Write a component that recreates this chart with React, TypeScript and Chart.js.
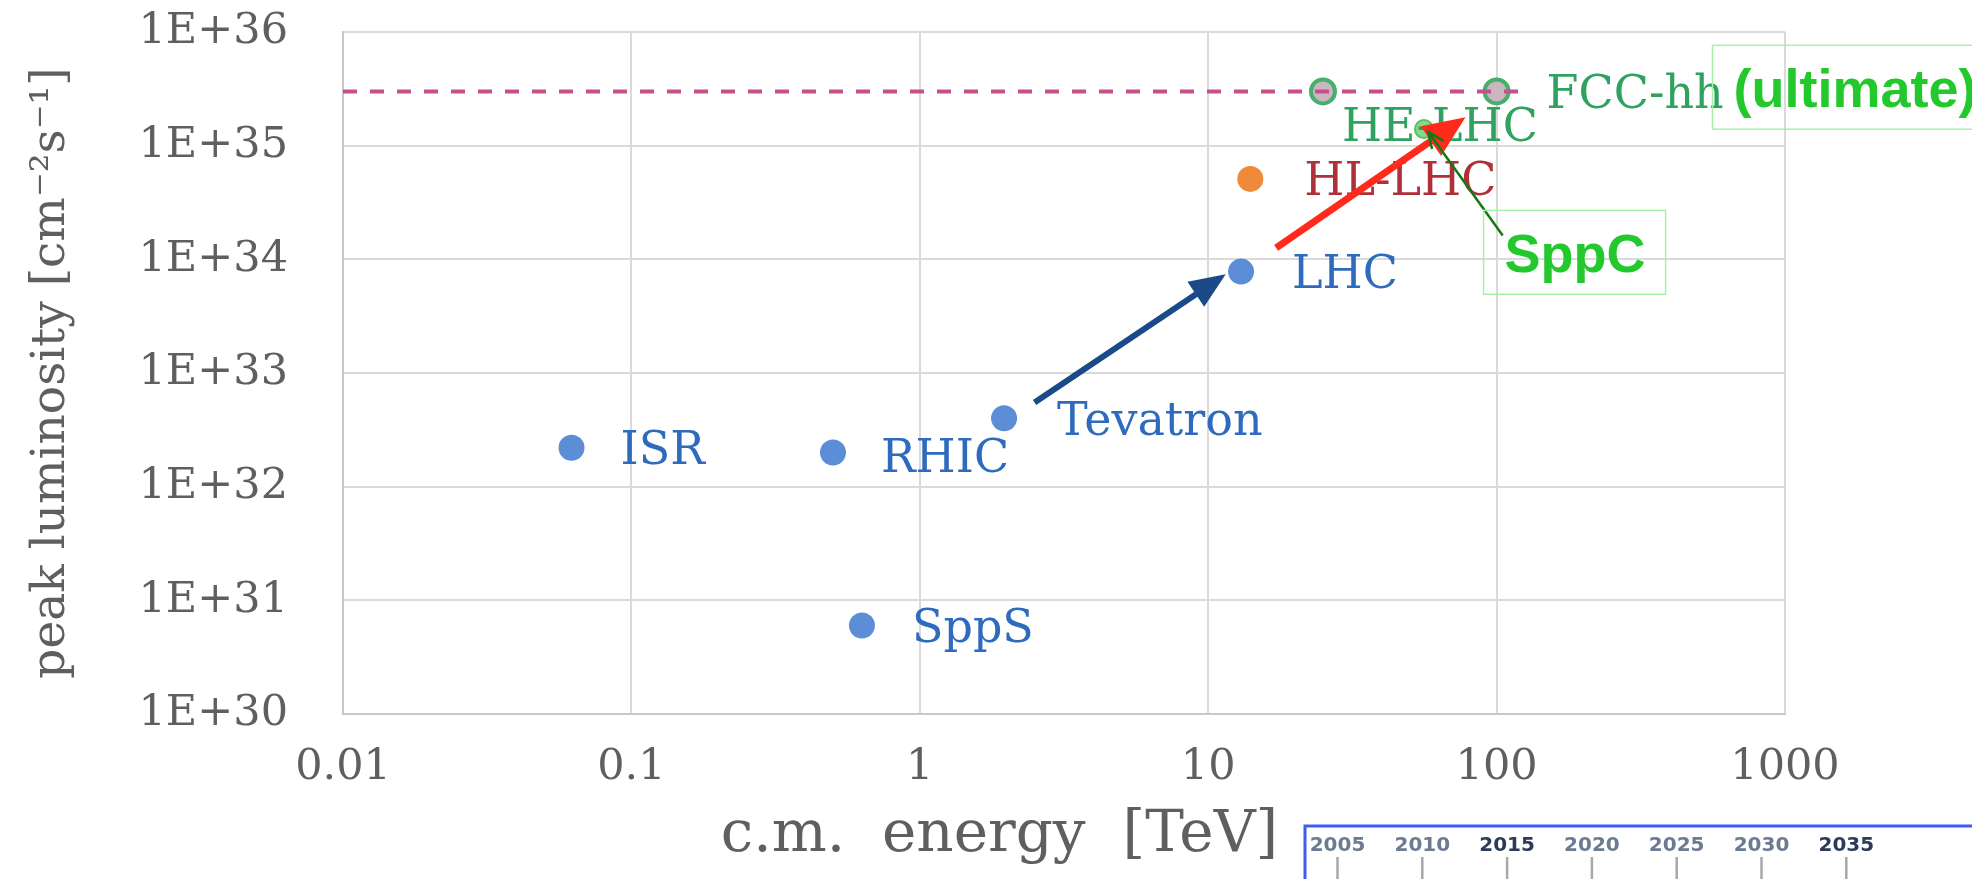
import React, { useEffect, useRef } from 'react';
import { Chart, registerables } from 'chart.js';

Chart.register(...registerables);

// ---------- axis ticks ----------
const xTickValues = [0.01, 0.1, 1, 10, 100, 1000];
const xTickLabels = ['0.01', '0.1', '1', '10', '100', '1000'];
const yTickValues = [1e30, 1e31, 1e32, 1e33, 1e34, 1e35, 1e36];
const yTickLabels = ['1E+30', '1E+31', '1E+32', '1E+33', '1E+34', '1E+35', '1E+36'];

// ---------- data ----------
const pastNames = ['ISR', 'SppS', 'RHIC', 'Tevatron', 'LHC'];
const pastEnergy = [0.062, 0.63, 0.5, 1.96, 13];
const pastLumi = [2.2e32, 6.0e30, 2.0e32, 4.0e32, 7.8e33];

const hlNames = ['HL-LHC'];
const hlEnergy = [14];
const hlLumi = [5.1e34];

const futureNames = ['HE-LHC', 'FCC-hh'];
const futureEnergy = [25, 100];
const futureLumi = [3.0e35, 3.0e35];

const sppcEnergy = [56];
const sppcLumi = [1.4e35];

const ultimateEnergy = [0.01, 124];
const ultimateLumi = [3.0e35, 3.0e35];

// arrows: from (energy, lumi) -> to (energy, lumi)
const arrowFromEnergy = [2.5, 17.2, 105];
const arrowFromLumi = [5.5e32, 1.26e34, 1.62e34];
const arrowToEnergy = [11.5, 78, 58];
const arrowToLumi = [7.4e33, 1.78e35, 1.32e35];

// boxed annotations (anchor = text left / baseline)
const noteTexts = ['(ultimate)', 'SppC'];
const noteEnergy = [663, 106.6];
const noteLumi = [2.18e35, 7.7e33];

const timelineYears = ['2005', '2010', '2015', '2020', '2025', '2030', '2035'];

// ---------- styles ----------
const SERIF = '"DejaVu Serif", "Liberation Serif", serif';
const AXIS_GRAY = '#5f5f5f';

const labelPlugin = {
  id: 'pointLabels',
  afterDatasetsDraw(chart: any) {
    const ctx = chart.ctx as CanvasRenderingContext2D;
    const xs = chart.scales.x;
    const ys = chart.scales.y;
    const fontSize = 46;
    const capHalf = fontSize * 0.36;
    ctx.save();
    ctx.font = `${fontSize}px ${SERIF}`;
    ctx.textAlign = 'left';
    ctx.textBaseline = 'alphabetic';
    const drawGroup = (names: string[], ex: number[], ly: number[], color: string, dx: number[], dy: number[]) => {
      ctx.fillStyle = color;
      names.forEach((n, i) => {
        const px = xs.getPixelForValue(ex[i]);
        const py = ys.getPixelForValue(ly[i]);
        ctx.fillText(n, px + dx[i], py + dy[i] + capHalf);
      });
    };
    drawGroup(pastNames, pastEnergy, pastLumi, '#2e6bbd', [49, 50, 48, 53, 51], [0, 0, 3, 0, 0]);
    drawGroup(hlNames, hlEnergy, hlLumi, '#b0303a', [54], [0]);
    drawGroup(futureNames, futureEnergy, futureLumi, '#2ea25e', [19, 50], [33, 0]);

    // arrows
    const drawArrow = (i: number, color: string, width: number, headLen: number, headW: number, filled: boolean) => {
      const x1 = xs.getPixelForValue(arrowFromEnergy[i]);
      const y1 = ys.getPixelForValue(arrowFromLumi[i]);
      const x2 = xs.getPixelForValue(arrowToEnergy[i]);
      const y2 = ys.getPixelForValue(arrowToLumi[i]);
      const a = Math.atan2(y2 - y1, x2 - x1);
      const c = Math.cos(a), s = Math.sin(a);
      const bx = x2 - headLen * c, by = y2 - headLen * s;
      ctx.strokeStyle = color;
      ctx.fillStyle = color;
      ctx.lineWidth = width;
      ctx.lineCap = 'butt';
      ctx.beginPath();
      ctx.moveTo(x1, y1);
      ctx.lineTo(filled ? bx + 2 * c : x2, filled ? by + 2 * s : y2);
      ctx.stroke();
      if (filled) {
        ctx.beginPath();
        ctx.moveTo(x2, y2);
        ctx.lineTo(bx - (headW / 2) * s, by + (headW / 2) * c);
        ctx.lineTo(bx + (headW / 2) * s, by - (headW / 2) * c);
        ctx.closePath();
        ctx.fill();
      } else {
        ctx.beginPath();
        ctx.moveTo(bx - (headW / 2) * s, by + (headW / 2) * c);
        ctx.lineTo(x2, y2);
        ctx.lineTo(bx + (headW / 2) * s, by - (headW / 2) * c);
        ctx.stroke();
      }
    };
    drawArrow(0, '#1b4a88', 6, 36, 30, true);
    drawArrow(1, '#ff2a1c', 7, 42, 36, true);
    drawArrow(2, '#137a13', 2.5, 16, 14, false);

    // boxed annotations
    ctx.font = `bold 54px "Liberation Sans", Arial, sans-serif`;
    noteTexts.forEach((t, i) => {
      const px = xs.getPixelForValue(noteEnergy[i]);
      const py = ys.getPixelForValue(noteLumi[i]);
      const w = ctx.measureText(t).width;
      const cap = 54 * 0.72;
      ctx.strokeStyle = '#a6f2a6';
      ctx.lineWidth = 1.5;
      const bw = i === 0 ? chart.width + 10 - (px - 21) : w + 41;
      ctx.strokeRect(px - 21, py - cap - 23, bw, cap + 23 + 22);
      ctx.fillStyle = '#22c82c';
      ctx.fillText(t, px, py);
    });
    ctx.restore();
  },
  afterDraw(chart: any) {
    const ctx = chart.ctx as CanvasRenderingContext2D;
    const W = chart.width;
    const H = chart.height;
    const left = 1305;
    const top = 826;
    ctx.save();
    ctx.fillStyle = '#ffffff';
    ctx.fillRect(left, top, W - left, H - top);
    ctx.strokeStyle = '#3d5cf0';
    ctx.lineWidth = 3;
    ctx.beginPath();
    ctx.moveTo(left, H + 2);
    ctx.lineTo(left, top);
    ctx.lineTo(W + 2, top);
    ctx.stroke();
    ctx.font = `bold 20px "DejaVu Sans", sans-serif`;
    ctx.textAlign = 'center';
    ctx.textBaseline = 'middle';
    timelineYears.forEach((yr, i) => {
      const cx = 1337.5 + i * 84.8;
      const strong = yr === '2015' || yr === '2035';
      ctx.fillStyle = strong ? '#2d3b58' : '#6c7a92';
      ctx.fillText(yr, cx, 846);
      ctx.strokeStyle = '#a8a8a8';
      ctx.lineWidth = 2.5;
      ctx.beginPath();
      ctx.moveTo(cx, 857);
      ctx.lineTo(cx, H);
      ctx.stroke();
    });
    ctx.restore();
  },
};

export default function App() {
  const canvasRef = useRef<HTMLCanvasElement | null>(null);

  useEffect(() => {
    document.body.style.margin = '0';
    const canvas = canvasRef.current;
    if (!canvas) return;
    const toPts = (xs: number[], ys: number[]) => xs.map((x, i) => ({ x, y: ys[i] }));

    const chart = new Chart(canvas, {
      type: 'scatter',
      data: {
        datasets: [
          {
            type: 'line',
            label: 'ultimate',
            data: toPts(ultimateEnergy, ultimateLumi),
            borderColor: '#c4508c',
            borderWidth: 4,
            borderDash: [14, 13],
            pointRadius: 0,
            fill: false,
            order: 0,
          } as any,
          {
            label: 'existing',
            data: toPts(pastEnergy, pastLumi),
            backgroundColor: '#5b8ed6',
            borderColor: '#5b8ed6',
            borderWidth: 0,
            pointRadius: 13,
            order: 1,
          },
          {
            label: 'HL-LHC',
            data: toPts(hlEnergy, hlLumi),
            backgroundColor: '#ee8a3a',
            borderColor: '#ee8a3a',
            borderWidth: 0,
            pointRadius: 13,
            order: 1,
          },
          {
            label: 'future',
            data: toPts(futureEnergy, futureLumi),
            backgroundColor: '#c9b6c0',
            borderColor: '#46b06a',
            borderWidth: 4,
            pointRadius: 12,
            order: 1,
          },
          {
            label: 'SppC',
            data: toPts(sppcEnergy, sppcLumi),
            backgroundColor: '#8ad88e',
            borderColor: '#5bbf66',
            borderWidth: 2,
            pointRadius: 9,
            order: 1,
          },
        ],
      },
      options: {
        animation: false,
        responsive: false,
        devicePixelRatio: 1,
        layout: { padding: { top: 32, right: 187, left: 0, bottom: 0 } },
        plugins: { legend: { display: false }, tooltip: { enabled: false } },
        scales: {
          x: {
            type: 'logarithmic',
            min: 0.01,
            max: 1000,
            afterBuildTicks: (s: any) => {
              s.ticks = xTickValues.map((v) => ({ value: v }));
            },
            afterFit: (s: any) => {
              s.height = 165;
              s.paddingLeft = 0;
              s.paddingRight = 0;
            },
            ticks: {
              autoSkip: false,
              maxRotation: 0,
              padding: 28,
              color: AXIS_GRAY,
              font: { family: SERIF, size: 43 },
              callback: (_v: any, i: number) => xTickLabels[i],
            },
            grid: { color: '#dadada', lineWidth: 2, drawTicks: false },
            border: { color: '#c8c8c8', width: 2 },
            title: {
              display: true,
              text: 'c.m.  energy  [TeV]       ',
              color: AXIS_GRAY,
              font: { family: SERIF, size: 58 },
              padding: { top: 0, bottom: 8 },
            },
          },
          y: {
            type: 'logarithmic',
            min: 1e30,
            max: 1e36,
            afterBuildTicks: (s: any) => {
              s.ticks = yTickValues.map((v) => ({ value: v }));
            },
            afterFit: (s: any) => {
              s.width = 343;
              s.paddingTop = 0;
              s.paddingBottom = 0;
            },
            ticks: {
              autoSkip: false,
              padding: 55,
              color: AXIS_GRAY,
              font: { family: SERIF, size: 43 },
              callback: (_v: any, i: number) => yTickLabels[i],
            },
            grid: { color: '#dadada', lineWidth: 2, drawTicks: false },
            border: { color: '#c8c8c8', width: 2 },
            title: {
              display: true,
              text: 'peak luminosity [cm⁻²s⁻¹]',
              color: AXIS_GRAY,
              font: { family: SERIF, size: 47 },
              padding: { top: 24, bottom: 0 },
            },
          },
        },
      },
      plugins: [labelPlugin],
    });
    return () => chart.destroy();
  }, []);

  return (
    <div style={{ width: 1972, height: 879, background: '#fff' }}>
      <canvas ref={canvasRef} width={1972} height={879} style={{ display: 'block' }} />
    </div>
  );
}
